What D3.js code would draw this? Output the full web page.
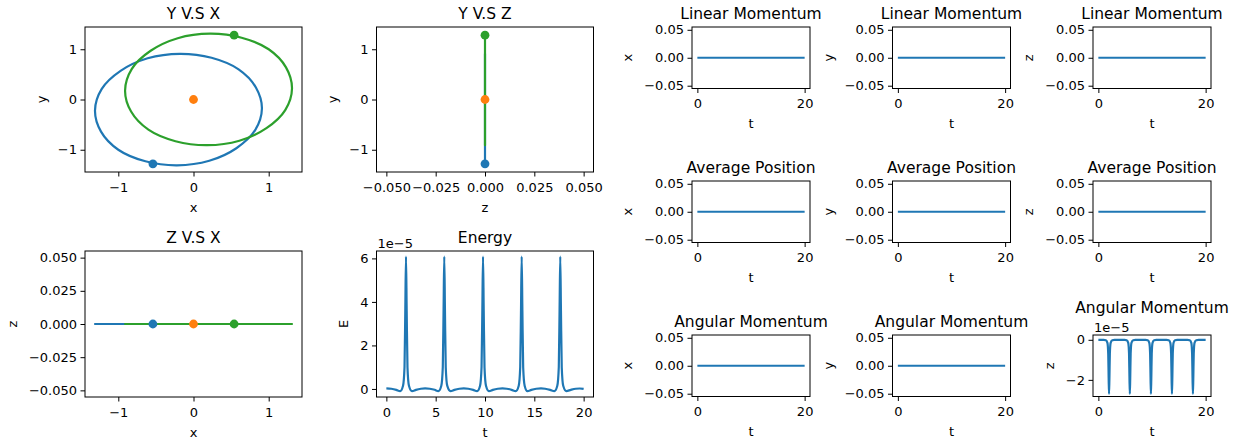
<!DOCTYPE html>
<html>
<head>
<meta charset="utf-8">
<script src="https://cdn.jsdelivr.net/npm/d3@7"></script>
<style>
  body { margin: 0; background: #fff; }
  svg text { font-family: "DejaVu Sans", sans-serif; fill: #000; }
</style>
</head>
<body>
<script>
// orbit samples (body 1 = blue, body 2 = green)
const blueX = [0.60, 0.24, -0.18, -0.61, -0.97, -1.22, -1.31, -1.23, -1.00, -0.64, -0.22, 0.21, 0.57, 0.82, 0.91, 0.83];
const blueY = [0.60, 0.83, 0.91, 0.82, 0.57, 0.21, -0.22, -0.64, -1.00, -1.23, -1.31, -1.22, -0.97, -0.61, -0.18, 0.24];
const blueZ = [0, 0, 0, 0, 0, 0, 0, 0, 0, 0, 0, 0, 0, 0, 0, 0];
const greenX = [-0.60, -0.24, 0.18, 0.61, 0.97, 1.22, 1.31, 1.23, 1.00, 0.64, 0.22, -0.21, -0.57, -0.82, -0.91, -0.83];
const greenY = [-0.60, -0.83, -0.91, -0.82, -0.57, -0.21, 0.22, 0.64, 1.00, 1.23, 1.31, 1.22, 0.97, 0.61, 0.18, -0.24];
const greenZ = [0, 0, 0, 0, 0, 0, 0, 0, 0, 0, 0, 0, 0, 0, 0, 0];

// current positions (dots): blue, orange (centre), green
const dotNames = ["blue", "orange", "green"];
const dotX = [-0.54, 0, 0.54];
const dotY = [-1.28, 0, 1.28];
const dotZ = [0, 0, 0];

// time series
const timeT = [
  0, 0.5, 1.0, 1.4, 1.69, 1.84, 1.92, 1.99, 2.06, 2.14, 2.29, 2.6, 3.0, 3.5, 3.93, 4.4, 4.9, 5.27,
  5.57, 5.72, 5.80, 5.87, 5.94, 6.02, 6.17, 6.5, 6.9, 7.4, 7.85, 8.3, 8.8, 9.2,
  9.50, 9.65, 9.73, 9.80, 9.87, 9.95, 10.10, 10.4, 10.8, 11.3, 11.77, 12.2, 12.7, 13.12,
  13.42, 13.57, 13.65, 13.72, 13.79, 13.87, 14.02, 14.3, 14.7, 15.2, 15.68, 16.1, 16.6, 17.03,
  17.33, 17.48, 17.56, 17.63, 17.70, 17.78, 17.93, 18.25, 18.7, 19.2, 19.6, 20.0
];
// energy, units of 1e-5
const energyE = [
  0.03, 0.01, -0.04, -0.1, 0.15, 1.0, 3.6, 6.08, 3.6, 1.0, 0.15, -0.1, -0.04, 0.01, 0.03, 0.01, -0.04, -0.1,
  0.15, 1.0, 3.6, 6.08, 3.6, 1.0, 0.15, -0.1, -0.04, 0.01, 0.03, 0.01, -0.04, -0.1,
  0.15, 1.0, 3.6, 6.08, 3.6, 1.0, 0.15, -0.1, -0.04, 0.01, 0.03, 0.01, -0.04, -0.1,
  0.15, 1.0, 3.6, 6.08, 3.6, 1.0, 0.15, -0.1, -0.04, 0.01, 0.03, 0.01, -0.04, -0.1,
  0.15, 1.0, 3.6, 6.08, 3.6, 1.0, 0.15, -0.1, -0.04, 0.01, 0.02, 0.0
];
// angular momentum z, units of 1e-5
const angMomZ = [
  0, 0, 0, -0.02, -0.15, -0.7, -1.9, -2.7, -1.9, -0.7, -0.15, -0.02, 0, 0, 0, 0, 0, -0.02,
  -0.15, -0.7, -1.9, -2.7, -1.9, -0.7, -0.15, -0.02, 0, 0, 0, 0, 0, -0.02,
  -0.15, -0.7, -1.9, -2.7, -1.9, -0.7, -0.15, -0.02, 0, 0, 0, 0, 0, -0.02,
  -0.15, -0.7, -1.9, -2.7, -1.9, -0.7, -0.15, -0.02, 0, 0, 0, 0, 0, -0.02,
  -0.15, -0.7, -1.9, -2.7, -1.9, -0.7, -0.15, -0.02, 0, 0, 0, 0
];

// the flat (conserved) quantities
const flatT = [0, 5, 10, 15, 20];
const linMomX = [0, 0, 0, 0, 0];
const linMomY = [0, 0, 0, 0, 0];
const linMomZ = [0, 0, 0, 0, 0];
const avgPosX = [0, 0, 0, 0, 0];
const avgPosY = [0, 0, 0, 0, 0];
const avgPosZ = [0, 0, 0, 0, 0];
const angMomX = [0, 0, 0, 0, 0];
const angMomY = [0, 0, 0, 0, 0];

const posTicks = [-1, 0, 1];
const smallTicks = [-0.05, -0.025, 0, 0.025, 0.05];
const flatTicks = [-0.05, 0, 0.05];
const timeTicks = [0, 5, 10, 15, 20];
const shortTimeTicks = [0, 20];
const energyTicks = [0, 2, 4, 6];
const angZTicks = [-2, 0];

const colors = { blue: "#1f77b4", orange: "#ff7f0e", green: "#2ca02c" };

const svg = d3.select("body").append("svg")
  .attr("width", 1251)
  .attr("height", 444);

function panel(o) {
  let g = svg.append("g").attr("transform", `translate(${o.left},${o.top})`);
  let x = d3.scaleLinear().domain(o.xDomain).range([0, o.width]);
  let y = d3.scaleLinear().domain(o.yDomain).range([o.height, 0]);

  let marks = g.append("g");

  let xa = g.append("g")
    .attr("transform", `translate(0,${o.height})`)
    .call(d3.axisBottom(x).tickValues(o.xTicks).tickFormat(o.xFmt).tickSize(4.5).tickPadding(6));
  let ya = g.append("g")
    .call(d3.axisLeft(y).tickValues(o.yTicks).tickFormat(o.yFmt).tickSize(4.5).tickPadding(3.5));
  [xa, ya].forEach(a => {
    a.select(".domain").remove();
    a.attr("font-size", 13).attr("font-family", "DejaVu Sans").attr("color", "#000");
  });

  g.append("rect")
    .attr("width", o.width).attr("height", o.height)
    .attr("fill", "none").attr("stroke", "#000").attr("stroke-width", 1);

  g.append("text")
    .attr("x", o.width / 2).attr("y", -(o.titleRaise || 8))
    .attr("text-anchor", "middle").attr("font-size", 15.5)
    .text(o.title);

  g.append("text")
    .attr("x", o.width / 2).attr("y", o.height + 39.5)
    .attr("text-anchor", "middle").attr("font-size", 13)
    .text(o.xLabel);

  let maxW = 0;
  ya.selectAll("text").each(function() { maxW = Math.max(maxW, this.getComputedTextLength()); });
  g.append("text")
    .attr("transform", `translate(${-8 - maxW - 16.5},${o.height / 2}) rotate(-90)`)
    .attr("text-anchor", "middle").attr("dominant-baseline", "central")
    .attr("font-size", 13)
    .text(o.yLabel);

  if (o.offsetText) {
    g.append("text").attr("x", 1).attr("y", -3.5).attr("font-size", 13).text(o.offsetText);
  }
  return { marks, x, y };
}

function drawPath(p, xs, ys, color, curve) {
  let line = d3.line()
    .x(d => p.x(d[0]))
    .y(d => p.y(d[1]))
    .curve(curve || d3.curveLinear);
  p.marks.append("path")
    .attr("d", line(d3.zip(xs, ys)))
    .attr("fill", "none")
    .attr("stroke", color)
    .attr("stroke-width", 2.2)
    .attr("stroke-linejoin", "round");
}

function drawDots(p, xs, ys) {
  p.marks.selectAll("circle.dot")
    .data(d3.zip(xs, ys, dotNames)).enter().append("circle")
      .attr("class", "dot")
      .attr("cx", d => p.x(d[0]))
      .attr("cy", d => p.y(d[1]))
      .attr("r", 4.4)
      .attr("fill", d => colors[d[2]]);
}

const fInt = d3.format(".0f");
const f3 = d3.format(".3f");
const f2 = d3.format(".2f");
const posDomain = [-1.443, 1.443];
const smallDomain = [-0.055, 0.055];

// left block
let pYX = panel({ left: 85, top: 27, width: 217, height: 145, xDomain: posDomain, yDomain: posDomain,
  xTicks: posTicks, yTicks: posTicks, xFmt: fInt, yFmt: fInt, title: "Y V.S X", xLabel: "x", yLabel: "y" });
drawPath(pYX, blueX, blueY, colors.blue, d3.curveCatmullRomClosed);
drawPath(pYX, greenX, greenY, colors.green, d3.curveCatmullRomClosed);
drawDots(pYX, dotX, dotY);

let pYZ = panel({ left: 376.5, top: 27, width: 217, height: 145, xDomain: smallDomain, yDomain: posDomain,
  xTicks: smallTicks, yTicks: posTicks, xFmt: f3, yFmt: fInt, title: "Y V.S Z", xLabel: "z", yLabel: "y" });
drawPath(pYZ, blueZ, blueY, colors.blue);
drawPath(pYZ, greenZ, greenY, colors.green);
drawDots(pYZ, dotZ, dotY);

let pZX = panel({ left: 85, top: 251, width: 217, height: 146, xDomain: posDomain, yDomain: smallDomain,
  xTicks: posTicks, yTicks: smallTicks, xFmt: fInt, yFmt: f3, title: "Z V.S X", xLabel: "x", yLabel: "z" });
drawPath(pZX, blueX, blueZ, colors.blue);
drawPath(pZX, greenX, greenZ, colors.green);
drawDots(pZX, dotX, dotZ);

let pE = panel({ left: 376.5, top: 251, width: 217, height: 146, xDomain: [-1, 21], yDomain: [-0.37, 6.34],
  xTicks: timeTicks, yTicks: energyTicks, xFmt: fInt, yFmt: fInt, title: "Energy", xLabel: "t", yLabel: "E",
  offsetText: "1e\u22125" });
drawPath(pE, timeT, energyE, colors.blue, d3.curveMonotoneX);

// right block: 3 x 3 grid
const colLeft = [692, 892.5, 1093];
const rowTop = [27, 181, 335];
const gridTitles = ["Linear Momentum", "Average Position", "Angular Momentum"];
const axisNames = ["x", "y", "z"];
const gridSeries = [
  [linMomX, linMomY, linMomZ],
  [avgPosX, avgPosY, avgPosZ],
  [angMomX, angMomY, null]
];

gridSeries.forEach((row, r) => {
  row.forEach((series, c) => {
    let isAngZ = series === null;
    let p = panel({
      left: colLeft[c], top: rowTop[r], width: 118, height: 61.5,
      xDomain: [-1, 21], yDomain: isAngZ ? [-2.83, 0.24] : smallDomain,
      xTicks: shortTimeTicks, yTicks: isAngZ ? angZTicks : flatTicks,
      xFmt: fInt, yFmt: isAngZ ? fInt : f2,
      title: gridTitles[r], xLabel: "t", yLabel: axisNames[c],
      offsetText: isAngZ ? "1e\u22125" : null, titleRaise: isAngZ ? 22.5 : 8
    });
    if (isAngZ) drawPath(p, timeT, angMomZ, colors.blue, d3.curveMonotoneX);
    else drawPath(p, flatT, series, colors.blue);
  });
});
</script>
</body>
</html>
